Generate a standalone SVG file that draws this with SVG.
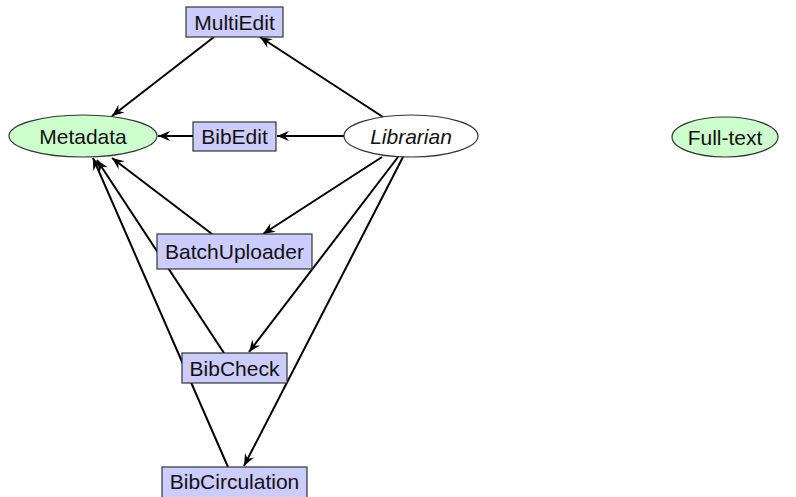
<svg xmlns="http://www.w3.org/2000/svg" width="796" height="497" viewBox="0 0 796 497">
<style>
.box{fill:#ccccff;stroke:#333;stroke-width:1.2}
.data{fill:#ccffcc;stroke:#333;stroke-width:1.2}
.actor{fill:#fff;stroke:#333;stroke-width:1.2}
text{font-family:"Liberation Sans",Arial,sans-serif;font-size:21px;fill:#111;text-anchor:middle}
.it{font-style:italic}
.edge{stroke:#000;stroke-width:2;fill:none;marker-end:url(#arr)}
</style>
<defs>
<marker id="arr" markerUnits="userSpaceOnUse" markerWidth="14" markerHeight="12" viewBox="-12 -6 13 12" refX="0" refY="0" orient="auto">
<path d="M0,0 L-12,-5 L-8,0 L-12,5 Z" fill="#000"/>
</marker>
</defs>
<g id="connectors">
<line class="edge" x1="214" y1="37" x2="112" y2="116"/>
<line class="edge" x1="383" y1="117" x2="260" y2="37"/>
<line class="edge" x1="344" y1="136" x2="277" y2="136"/>
<line class="edge" x1="193" y1="136" x2="158" y2="136"/>
<line class="edge" x1="382" y1="157" x2="263" y2="234"/>
<line class="edge" x1="398" y1="157" x2="249" y2="352"/>
<line class="edge" x1="403" y1="157" x2="244" y2="466"/>
<line class="edge" x1="212" y1="234" x2="112" y2="158"/>
<line class="edge" x1="224" y1="353" x2="97" y2="160"/>
<line class="edge" x1="228" y1="467" x2="93" y2="158"/>
</g>
<g id="multiedit"><rect class="box" x="186" y="7" width="97" height="30"/><text x="234.5" y="29.5">MultiEdit</text></g>
<g id="metadata"><ellipse class="data" cx="83" cy="136" rx="74" ry="21"/><text x="83" y="143.5">Metadata</text></g>
<g id="bibedit"><rect class="box" x="193" y="122" width="83" height="29"/><text x="234.5" y="144">BibEdit</text></g>
<g id="librarian"><ellipse class="actor" cx="411" cy="136" rx="67" ry="21"/><text class="it" x="411" y="143.5">Librarian</text></g>
<g id="fulltext"><ellipse class="data" cx="725" cy="137" rx="53" ry="20"/><text x="725" y="144.5">Full-text</text></g>
<g id="batchuploader"><rect class="box" x="157" y="234" width="155" height="35"/><text x="234.5" y="259">BatchUploader</text></g>
<g id="bibcheck"><rect class="box" x="182" y="353" width="105" height="30"/><text x="234.5" y="375.5">BibCheck</text></g>
<g id="bibcirculation"><rect class="box" x="162" y="467" width="145" height="32"/><text x="234.5" y="489">BibCirculation</text></g>
</svg>
